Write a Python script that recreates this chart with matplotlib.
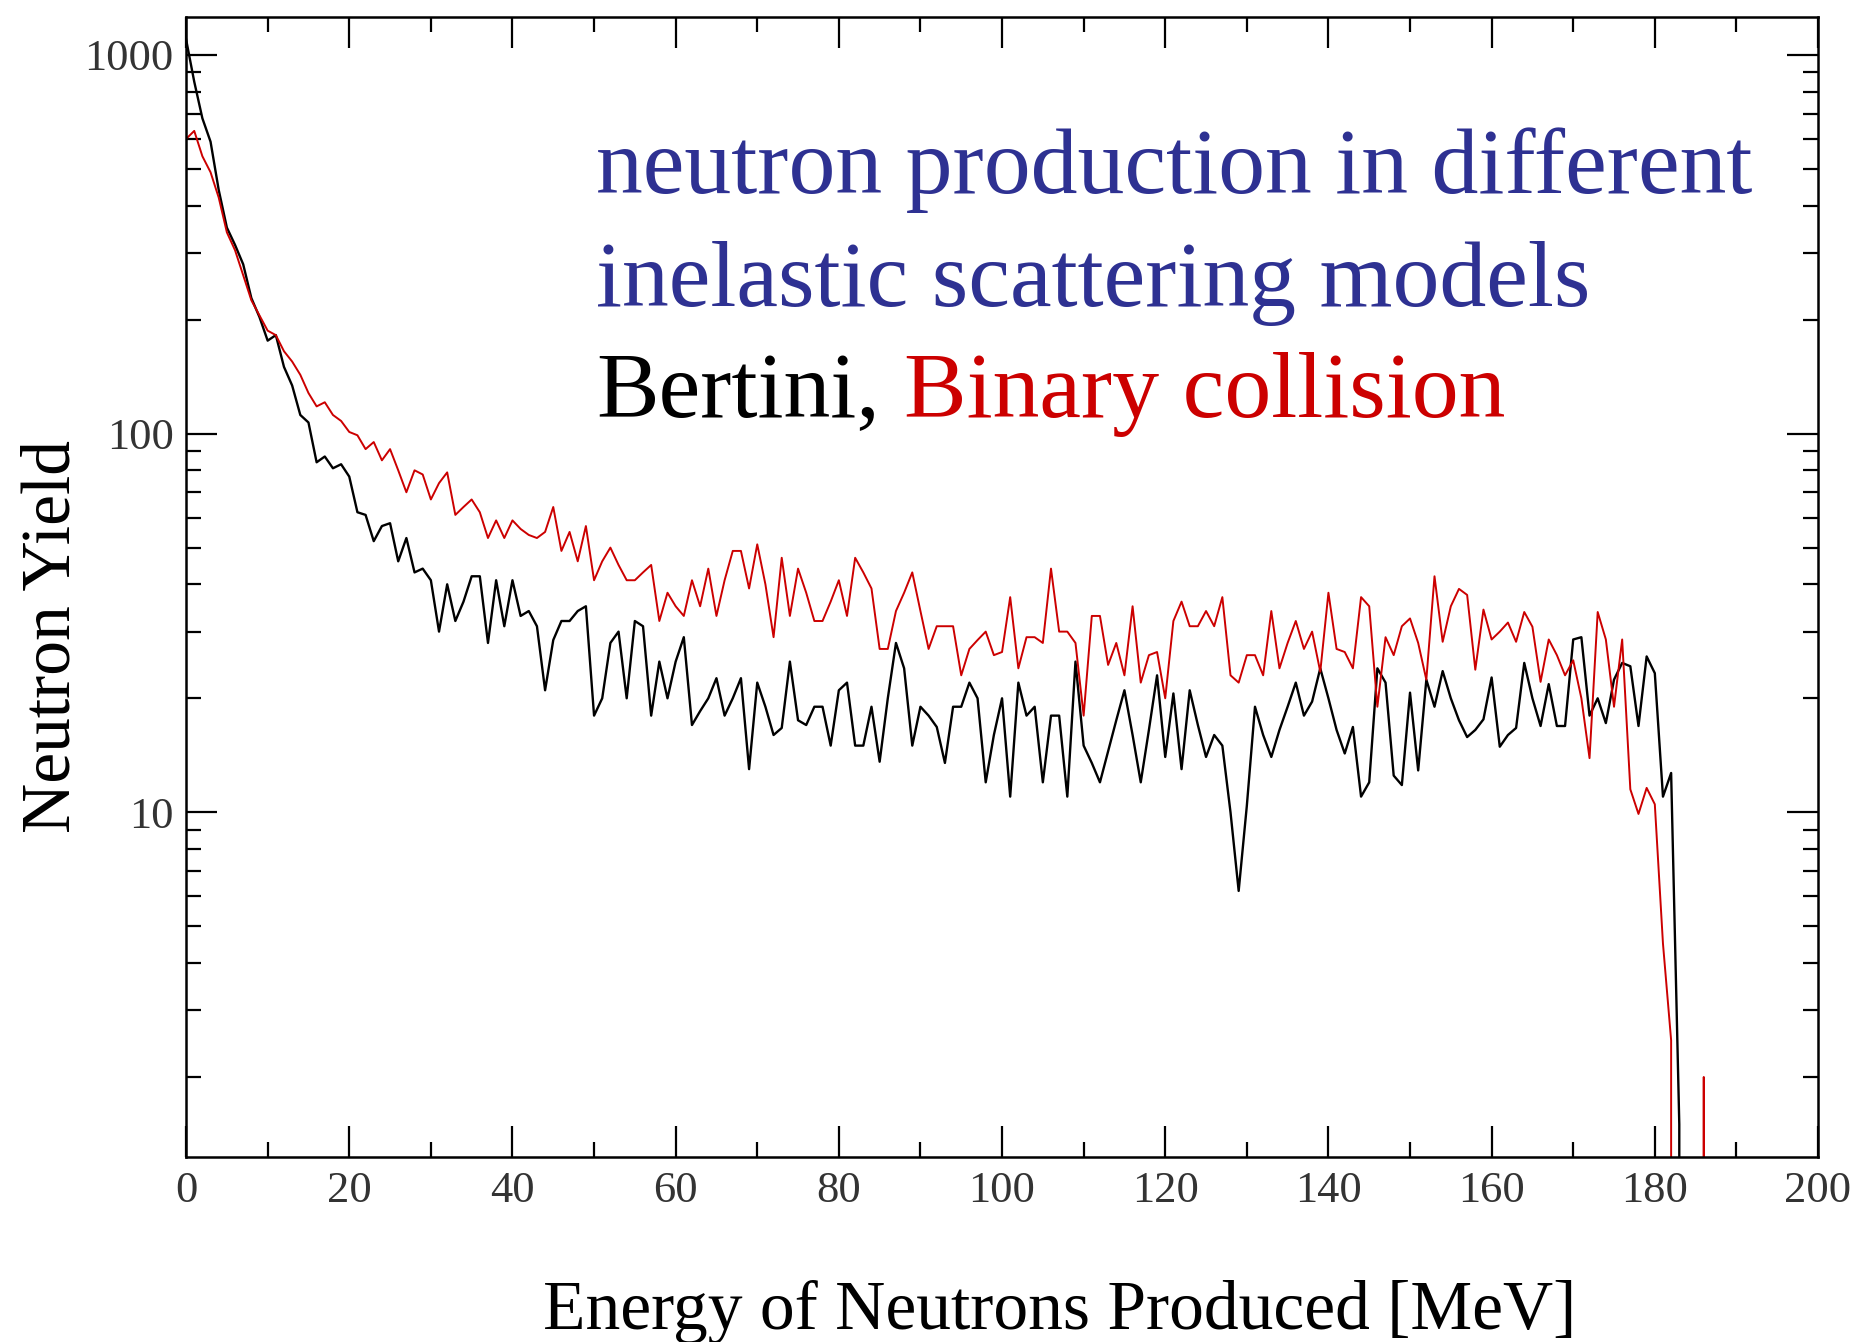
import matplotlib
matplotlib.use("Agg")
import matplotlib.pyplot as plt
import numpy as np
from matplotlib.ticker import FixedLocator, NullFormatter, FuncFormatter

# ---------------- data ----------------
energy = list(range(0, 200))

bertini = [
    1100, 850, 680, 590, 440, 350, 315, 280, 228, 203,      # 0-9
    176, 182, 150, 134, 112, 107, 84, 87, 81, 83,           # 10-19
    77, 62, 61, 52, 57, 58, 46, 53, 43, 44,                 # 20-29
    41, 30, 40, 32, 36, 42, 42, 28, 41, 31,                 # 30-39
    41, 33, 34, 31, 21, 28.5, 32, 32, 34, 35,               # 40-49
    18, 20, 28, 30, 20, 32, 31, 18, 25, 20,                 # 50-59
    25, 29, 17, 18.5, 20, 22.6, 18, 20, 22.6, 13,           # 60-69
    22, 19, 16, 16.7, 25, 17.5, 17, 19, 19, 15,             # 70-79
    21, 22, 15, 15, 19, 13.6, 20, 28, 24, 15,               # 80-89
    19, 18, 16.8, 13.5, 19, 19, 22, 20, 12, 16,             # 90-99
    20, 11, 22, 18, 19, 12, 18, 18, 11, 25,                 # 100-109
    15, 13.5, 12, 14.5, 17.5, 21, 16, 12, 16.5, 23,         # 110-119
    14, 20.6, 13, 21, 17, 14, 16, 15, 10, 6.2,              # 120-129
    10.4, 19, 16, 14, 16.5, 19, 22, 18, 19.6, 24,           # 130-139
    20, 16.5, 14.3, 16.8, 11, 12, 24, 22, 12.5, 11.8,       # 140-149
    20.7, 12.9, 22.4, 19, 23.6, 20, 17.5, 15.8, 16.5, 17.6, # 150-159
    22.7, 14.9, 16, 16.7, 24.8, 20, 16.9, 21.8, 16.9, 16.9, # 160-169
    28.6, 29, 18, 20, 17.2, 22.4, 24.8, 24.3, 16.9, 25.8,   # 170-179
    23.3, 11, 12.7, 1.5, 0, 0, 0, 0, 0, 0,                  # 180-189
    0, 0, 0, 0, 0, 0, 0, 0, 0, 0,                           # 190-199
]

binary = [
    600, 630, 540, 490, 420, 340, 305, 262, 225, 205,       # 0-9
    187, 182, 165, 155, 143, 128, 118, 121, 112, 108,       # 10-19
    101, 99, 91, 95, 85, 91, 80, 70, 80, 78,                # 20-29
    67, 74, 79, 61, 64, 67, 62, 53, 59, 53,                 # 30-39
    59, 56, 54, 53, 55, 64, 49, 55, 46, 57,                 # 40-49
    41, 46, 50, 45, 41, 41, 43, 45, 32, 38,                 # 50-59
    35, 33, 41, 35, 44, 33, 41, 49, 49, 39,                 # 60-69
    51, 40, 29, 47, 33, 44, 38, 32, 32, 36,                 # 70-79
    41, 33, 47, 43, 39, 27, 27, 34, 38, 43,                 # 80-89
    34, 27, 31, 31, 31, 23, 27, 28.5, 30, 26,               # 90-99
    26.5, 37, 24, 29, 29, 28, 44, 30, 30, 28,               # 100-109
    18, 33, 33, 24.5, 28, 23, 35, 22, 26, 26.5,             # 110-119
    20, 32, 36, 31, 31, 34, 31, 37, 23, 22,                 # 120-129
    26, 26, 23, 34, 24, 28, 32, 27, 30, 23.5,               # 130-139
    38, 27, 26.5, 24, 37, 35, 19, 29, 26, 31,               # 140-149
    32.5, 28, 22.4, 42, 28.2, 35, 38.9, 37.5, 23.8, 34.3,   # 150-159
    28.6, 30, 31.7, 28.2, 33.8, 30.9, 22.1, 28.6, 26, 23,   # 160-169
    25.2, 20, 13.9, 33.8, 28.6, 19, 28.6, 11.5, 9.9, 11.6,  # 170-179
    10.5, 4.5, 2.5, 0, 0, 0, 2.0, 0, 0, 0,                  # 180-189
    0, 0, 0, 0, 0, 0, 0, 0, 0, 0,                           # 190-199
]

x_major = [0, 20, 40, 60, 80, 100, 120, 140, 160, 180, 200]
y_major = [10, 100, 1000]

# ---------------- figure ----------------
plt.rcParams['font.family'] = ['Liberation Serif', 'DejaVu Serif']

fig = plt.figure(figsize=(18.57, 13.42), dpi=100)
ax = fig.add_axes([0.1002, 0.1379, 0.8788, 0.8494])

ax.plot(energy, bertini, color='black', lw=1.7)
ax.plot(energy, binary, color='#cc0000', lw=1.4)

ax.set_yscale('log', nonpositive='clip')
ax.set_xlim(0, 200)
ax.set_ylim(1.23, 1259)

ax.xaxis.set_major_locator(FixedLocator(x_major))
ax.xaxis.set_minor_locator(FixedLocator([v + 10 for v in x_major[:-1]]))
ax.yaxis.set_major_locator(FixedLocator(y_major))
minors = [m * d for d in (1, 10, 100) for m in range(2, 10)]
ax.yaxis.set_minor_locator(FixedLocator(minors))
ax.yaxis.set_major_formatter(FuncFormatter(lambda v, p: f"{int(round(v))}"))
ax.yaxis.set_minor_formatter(NullFormatter())

ax.tick_params(which='both', direction='in', top=True, right=True,
               width=1.6, color='black')
ax.tick_params(which='major', length=22, labelsize=32, labelcolor='#333333')
ax.tick_params(which='minor', length=11)
ax.tick_params(axis='x', which='major', pad=10)
ax.tick_params(axis='y', which='major', pad=9)

for sp in ax.spines.values():
    sp.set_linewidth(1.8)

ax.set_xlabel('Energy of Neutrons Produced [MeV]', fontsize=50, va='center')
ax.xaxis.set_label_coords(0.535, -0.136)
ax.set_ylabel('Neutron Yield', fontsize=50, va='center')
ax.yaxis.set_label_coords(-0.082, 0.457)

blue = '#2e3192'
ax.text(0.2512, 0.8456, 'neutron production in different', transform=ax.transAxes,
        fontsize=67.5, color=blue, va='baseline', ha='left')
ax.text(0.2512, 0.7465, 'inelastic scattering models', transform=ax.transAxes,
        fontsize=67.5, color=blue, va='baseline', ha='left')
ax.text(0.2512, 0.649, 'Bertini,', transform=ax.transAxes,
        fontsize=67.5, color='black', va='baseline', ha='left')
ax.text(0.44, 0.649, 'Binary collision', transform=ax.transAxes,
        fontsize=67.5, color='#cc0000', va='baseline', ha='left')

fig.savefig('out.png', dpi=100)
